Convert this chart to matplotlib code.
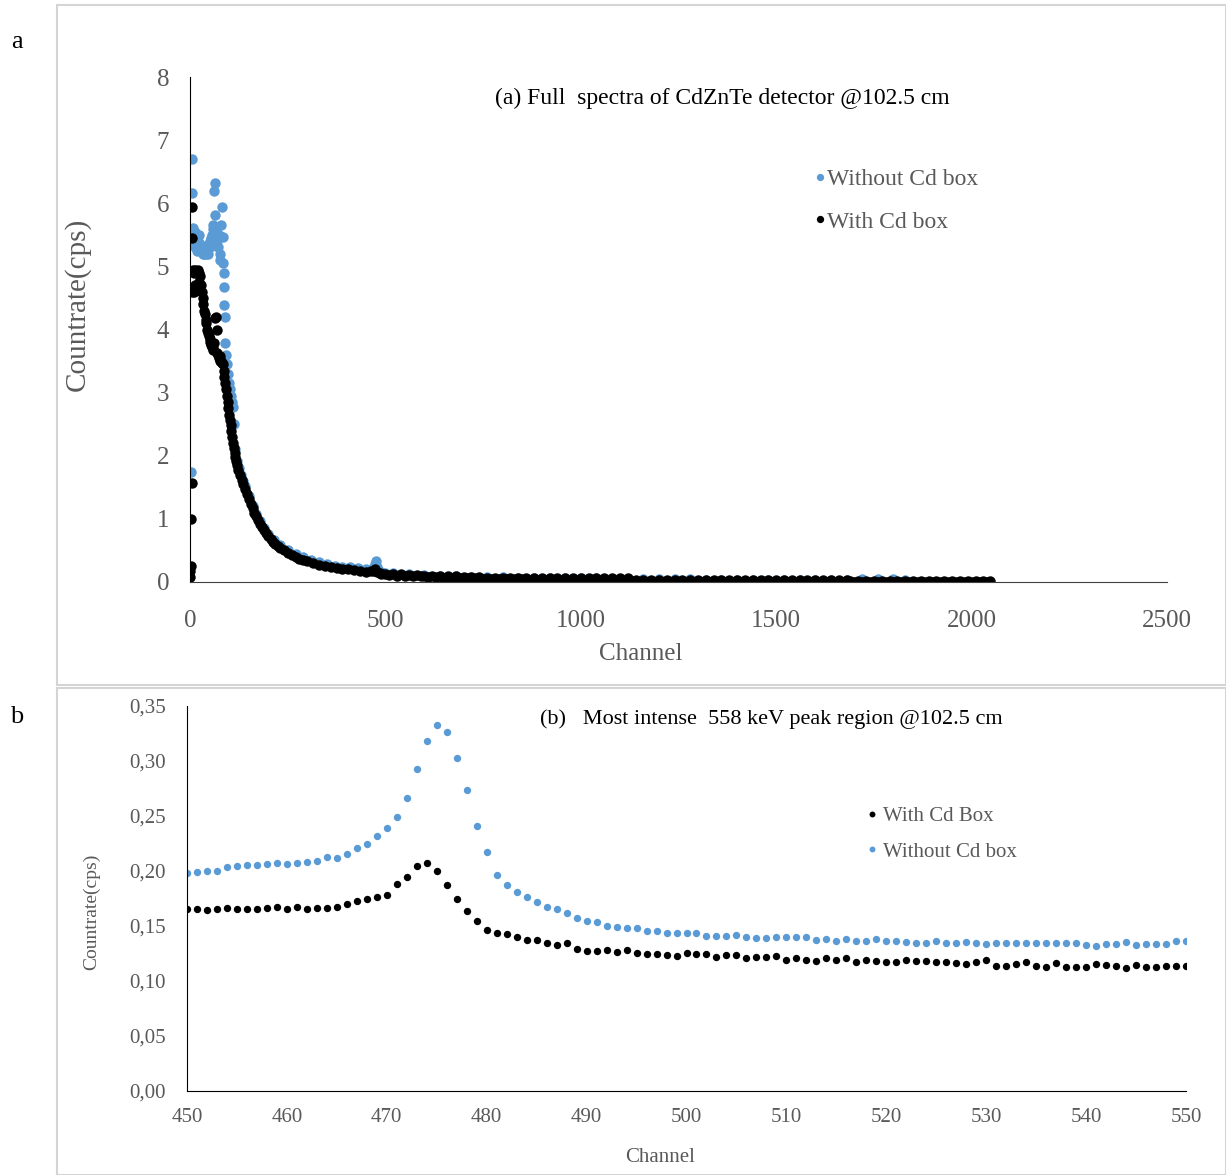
import numpy as np
import matplotlib
matplotlib.use('Agg')
import matplotlib.pyplot as plt
from matplotlib.patches import Rectangle
from matplotlib.ticker import FuncFormatter

serif = ['Liberation Serif', 'DejaVu Serif']
plt.rcParams['font.family'] = serif

# ---- panel a: full spectrum ----
ch_a_without = [2, 5, 6, 7, 8, 10, 12, 14, 16, 18, 20, 22, 24, 26, 28, 30, 32, 34, 36, 38,
                40, 42, 44, 46, 48, 50, 52, 54, 56, 58, 60, 62, 63, 64, 66, 68, 70, 72, 74, 76,
                78, 80, 82, 84, 85, 86, 87, 88, 89, 90, 92, 95, 98, 100, 102, 104, 107, 110, 113, 116,
                120, 125, 130, 135, 140, 150, 160, 170, 180, 190, 200, 215, 230, 250, 270, 290, 310, 330, 350, 370,
                390, 410, 430, 450, 465, 470, 473, 476, 479, 482, 490, 500, 520, 560, 600, 640, 680, 720, 760, 800,
                840, 880, 920, 960, 1000, 1040, 1080, 1120, 1160, 1200, 1240, 1280, 1320, 1360, 1400, 1440, 1480, 1520, 1560, 1600,
                1640, 1680, 1720, 1760, 1800, 1830]
cps_a_without = [1.74, 6.70, 6.16, 5.61, 5.50, 5.35, 5.55, 5.30, 5.45, 5.25, 5.40, 5.50, 5.30, 5.35, 5.25, 5.30, 5.20, 5.25, 5.20, 5.30,
                 5.20, 5.25, 5.30, 5.20, 5.35, 5.30, 5.40, 5.45, 5.50, 5.60, 5.65, 6.20, 6.32, 5.82, 5.55, 5.50, 5.40, 5.30, 5.50, 5.20,
                 5.10, 5.66, 5.94, 5.47, 5.05, 4.90, 4.68, 4.39, 4.20, 3.79, 3.60, 3.45, 3.30, 3.15, 3.05, 2.95, 2.85, 2.77, 2.50, 2.10,
                 1.92, 1.80, 1.70, 1.60, 1.52, 1.36, 1.21, 1.08, 0.96, 0.85, 0.76, 0.66, 0.58, 0.50, 0.44, 0.39, 0.35, 0.31, 0.28, 0.26,
                 0.24, 0.23, 0.22, 0.20, 0.21, 0.24, 0.29, 0.33, 0.24, 0.19, 0.155, 0.143, 0.135, 0.12, 0.11, 0.10, 0.09, 0.085, 0.08, 0.075,
                 0.07, 0.065, 0.06, 0.06, 0.06, 0.06, 0.055, 0.05, 0.055, 0.055, 0.055, 0.05, 0.035, 0.035, 0.035, 0.035, 0.035, 0.035, 0.035, 0.035,
                 0.035, 0.035, 0.04, 0.04, 0.04, 0.035]

# low-energy part (dense, noisy)
ch_a_with = [0, 1, 2, 3, 4, 5, 5, 6, 8, 9, 10, 12, 14, 16, 18, 20, 22, 24, 26, 28,
             30, 32, 34, 36, 38, 40, 42, 44, 46, 48, 50, 52, 54, 56, 58, 60, 62, 64, 66, 68,
             70, 72, 74, 76, 78, 80, 82, 84, 86, 88, 90, 92, 94, 96, 98, 100, 102, 104, 106, 108,
             110, 112, 114, 116, 118, 120, 124, 128, 132, 136, 140, 145, 150, 155, 160, 165, 170, 175, 180, 185,
             190, 195, 200, 206, 212, 218, 224, 230, 240, 250, 260, 270, 280, 290, 300, 315, 330, 345, 360, 375,
             390, 405, 420, 435, 450, 462, 470, 474, 478, 485, 490]
cps_a_with = [0.08, 0.17, 0.25, 1.00, 1.57, 5.94, 4.60, 5.45, 4.95, 4.60, 4.90, 4.70, 4.95, 4.62, 4.90, 4.95, 4.75, 4.90, 4.85, 4.70,
              4.60, 4.50, 4.40, 4.30, 4.25, 4.15, 4.10, 4.00, 3.95, 3.90, 3.85, 3.80, 3.75, 3.72, 3.70, 3.68, 3.78, 4.18, 4.20, 4.00,
              3.62, 3.60, 3.55, 3.58, 3.50, 3.50, 3.47, 3.45, 3.35, 3.25, 3.15, 3.05, 2.95, 2.85, 2.75, 2.65, 2.57, 2.48, 2.40, 2.30,
              2.20, 2.12, 2.05, 1.98, 1.92, 1.86, 1.78, 1.70, 1.62, 1.55, 1.48, 1.40, 1.32, 1.24, 1.18, 1.10, 1.04, 0.98, 0.92, 0.87,
              0.82, 0.77, 0.73, 0.68, 0.64, 0.60, 0.57, 0.54, 0.50, 0.46, 0.43, 0.40, 0.37, 0.35, 0.33, 0.30, 0.27, 0.25, 0.23, 0.22,
              0.21, 0.20, 0.19, 0.18, 0.165, 0.167, 0.178, 0.207, 0.164, 0.137, 0.128]

# high-energy tail, every 10 channels
ch_tail_with = list(range(500, 2041, 10)) + [2048]
cps_tail_with = [0.13, 0.11, 0.12, 0.10, 0.12, 0.10, 0.11, 0.09, 0.11, 0.09,
                 0.10, 0.08, 0.10, 0.08, 0.09, 0.07, 0.09, 0.07, 0.09, 0.06,
                 0.08, 0.06, 0.08, 0.06, 0.08, 0.05, 0.07, 0.05, 0.07, 0.05,
                 0.07, 0.04, 0.07, 0.04, 0.06, 0.04, 0.06, 0.03, 0.06, 0.03,
                 0.06, 0.03, 0.06, 0.03, 0.06, 0.02, 0.06, 0.02, 0.06, 0.02,
                 0.06, 0.02, 0.06, 0.02, 0.06, 0.02, 0.06, 0.02, 0.06, 0.02,
                 0.06, 0.02, 0.06, 0.02, 0.035, 0.005, 0.035, 0.005, 0.035, 0.005,
                 0.035, 0.005, 0.035, 0.005, 0.035, 0.005, 0.035, 0.005, 0.035, 0.005,
                 0.035, 0.005, 0.035, 0.005, 0.035, 0.005, 0.035, 0.005, 0.035, 0.005,
                 0.035, 0.005, 0.035, 0.005, 0.035, 0.005, 0.035, 0.005, 0.035, 0.005,
                 0.035, 0.005, 0.035, 0.005, 0.035, 0.005, 0.035, 0.005, 0.035, 0.005,
                 0.035, 0.005, 0.035, 0.005, 0.035, 0.005, 0.035, 0.005, 0.035, 0.02,
                 0.00, 0.02, 0.00, 0.02, 0.00, 0.02, 0.00, 0.02, 0.00, 0.02,
                 0.00, 0.02, 0.00, 0.02, 0.00, 0.02, 0.00, 0.02, 0.00, 0.02,
                 0.00, 0.02, 0.00, 0.02, 0.00, 0.02, 0.00, 0.02, 0.00, 0.02,
                 0.00, 0.02, 0.00, 0.02, 0.00, 0.01]

# ---- panel b: 558 keV peak region ----
ch_b = list(range(450, 551))
cps_b_with = [0.1652, 0.1652, 0.1642, 0.1658, 0.1667, 0.1658, 0.1652, 0.1652, 0.1667, 0.1676,
              0.1658, 0.1676, 0.1658, 0.1667, 0.1667, 0.1676, 0.1700, 0.1727, 0.1742, 0.1760,
              0.1782, 0.1882, 0.1948, 0.2045, 0.2070, 0.2003, 0.1873, 0.1742, 0.1639, 0.1548,
              0.1464, 0.1433, 0.1424, 0.1403, 0.1373, 0.1373, 0.1342, 0.1327, 0.1342, 0.1288,
              0.1276, 0.1273, 0.1282, 0.1261, 0.1282, 0.1252, 0.1242, 0.1245, 0.1236, 0.1230,
              0.1258, 0.1245, 0.1245, 0.1215, 0.1236, 0.1236, 0.1206, 0.1221, 0.1221, 0.1227,
              0.1191, 0.1206, 0.1191, 0.1182, 0.1206, 0.1191, 0.1206, 0.1170, 0.1191, 0.1185,
              0.1176, 0.1176, 0.1191, 0.1185, 0.1185, 0.1176, 0.1170, 0.1161, 0.1152, 0.1176,
              0.1191, 0.1139, 0.1139, 0.1152, 0.1170, 0.1139, 0.1130, 0.1167, 0.1130, 0.1130,
              0.1130, 0.1152, 0.1145, 0.1139, 0.1121, 0.1145, 0.1130, 0.1130, 0.1136, 0.1139,
              0.1139]
cps_b_without = [0.1980, 0.1994, 0.2003, 0.2003, 0.2039, 0.2045, 0.2055, 0.2055, 0.2064, 0.2070,
                 0.2064, 0.2070, 0.2085, 0.2094, 0.2130, 0.2121, 0.2155, 0.2206, 0.2245, 0.2321,
                 0.2394, 0.2494, 0.2667, 0.2927, 0.3185, 0.3327, 0.3261, 0.3030, 0.2733, 0.2409,
                 0.2170, 0.1964, 0.1873, 0.1812, 0.1767, 0.1721, 0.1676, 0.1652, 0.1615, 0.1570,
                 0.1548, 0.1533, 0.1503, 0.1488, 0.1479, 0.1479, 0.1455, 0.1455, 0.1433, 0.1433,
                 0.1439, 0.1433, 0.1412, 0.1412, 0.1412, 0.1418, 0.1403, 0.1394, 0.1394, 0.1397,
                 0.1397, 0.1397, 0.1397, 0.1373, 0.1379, 0.1367, 0.1382, 0.1364, 0.1364, 0.1382,
                 0.1364, 0.1364, 0.1352, 0.1348, 0.1348, 0.1364, 0.1348, 0.1348, 0.1352, 0.1342,
                 0.1336, 0.1342, 0.1342, 0.1342, 0.1348, 0.1348, 0.1348, 0.1342, 0.1348, 0.1348,
                 0.1327, 0.1321, 0.1333, 0.1336, 0.1358, 0.1327, 0.1336, 0.1336, 0.1336, 0.1364,
                 0.1367]

blue = '#5B9BD5'
grey = '#595959'

W, H = 1226, 1175
fig = plt.figure(figsize=(W / 100, H / 100), dpi=100)

# light frames around the two panels
for (x0, y0, x1, y1) in [(57, 5, 1226, 685), (57, 688, 1226, 1175)]:
    fig.add_artist(Rectangle((x0 / W, 1 - y1 / H), (x1 - x0) / W, (y1 - y0) / H,
                             transform=fig.transFigure, fill=False, ec='#d4d4d4', lw=1.5))
fig.text(17 / W, 1 - 42 / H, 'a', fontsize=19, ha='center', va='center')
fig.text(17 / W, 1 - 717 / H, 'b', fontsize=19, ha='center', va='center')

# ---------------- panel a ----------------
ax = fig.add_axes([190 / W, 1 - 582 / H, 977 / W, 505 / H])
ax.plot(ch_a_without, cps_a_without, 'o', color=blue, ms=7.5, mew=0, label='Without Cd box')
ax.plot(ch_a_with + ch_tail_with, cps_a_with + cps_tail_with, 'o', color='black', ms=7.5,
        mew=0, label='With Cd box')
ax.set_xlim(0, 2500)
ax.set_ylim(0, 8)
ax.set_xticks(range(0, 2501, 500))
ax.set_yticks(range(0, 9))
ax.spines[['top', 'right']].set_visible(False)
ax.spines['left'].set_color('black')
ax.spines['bottom'].set_color('#404040')
ax.tick_params(length=0, labelsize=18, labelcolor=grey)
ax.tick_params(axis='x', pad=20)
ax.tick_params(axis='y', pad=15)
ax.set_title('(a) Full  spectra of CdZnTe detector @102.5 cm', fontsize=17,
             x=0.545, y=0.957, va='center', pad=0)
ax.legend(loc='upper left', bbox_to_anchor=(0.63, 0.838), frameon=False, fontsize=17,
          labelcolor=grey, handlelength=0.45, handletextpad=0.05, labelspacing=0.9,
          markerscale=0.7, borderaxespad=0)
fig.text(641 / W, 1 - 654 / H, 'Channel', fontsize=18, color=grey, ha='center', va='center')
fig.text(77 / W, 1 - 304 / H, 'Countrate(cps)', fontsize=21, color=grey, ha='center',
         va='center', rotation=90)

# ---------------- panel b ----------------
bx = fig.add_axes([187 / W, 1 - 1091 / H, 999 / W, 385 / H])
bx.plot(ch_b, cps_b_without, 'o', color=blue, ms=5.3, mew=0, label='Without Cd box')
bx.plot(ch_b, cps_b_with, 'o', color='black', ms=5.3, mew=0, label='With Cd Box')
bx.set_xlim(450, 550)
bx.set_ylim(0, 0.35)
bx.set_xticks(range(450, 551, 10))
bx.set_yticks(np.arange(0, 0.351, 0.05))
bx.yaxis.set_major_formatter(FuncFormatter(lambda v, p: f'{v:.2f}'.replace('.', ',')))
bx.spines[['top', 'right']].set_visible(False)
bx.spines[['left', 'bottom']].set_color('black')
bx.tick_params(length=0, labelsize=15, labelcolor=grey)
bx.tick_params(axis='x', pad=12)
bx.tick_params(axis='y', pad=15)
bx.set_title('(b)   Most intense  558 keV peak region @102.5 cm', fontsize=16,
             x=0.585, y=0.966, va='center', pad=0)
handles, labels = bx.get_legend_handles_labels()
bx.legend(handles[::-1], labels[::-1], loc='upper left', bbox_to_anchor=(0.672, 0.76),
          frameon=False, fontsize=15, labelcolor=grey, handlelength=0.5, handletextpad=0.3,
          labelspacing=0.75, markerscale=0.8, borderaxespad=0)
fig.text(660 / W, 1 - 1157 / H, 'Channel', fontsize=15, color=grey, ha='center', va='center')
fig.text(92 / W, 1 - 912 / H, 'Countrate(cps)', fontsize=14, color=grey, ha='center',
         va='center', rotation=90)

fig.savefig('out.png', dpi=100)
